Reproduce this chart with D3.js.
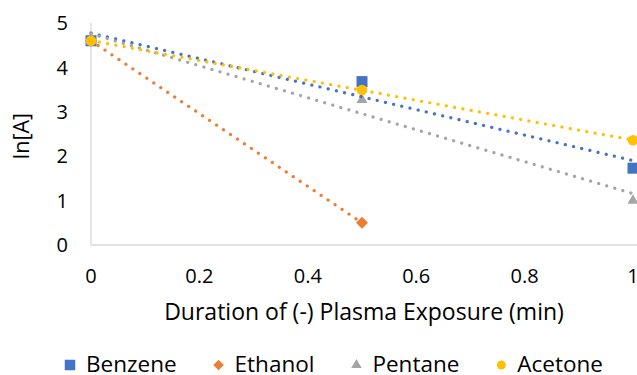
<!DOCTYPE html>
<html>
<head>
<meta charset="utf-8">
<script src="https://cdn.jsdelivr.net/npm/d3@7"></script>
<style>
  html, body { margin: 0; padding: 0; background: #fff; }
  svg { display: block; font-family: "Open Sans", sans-serif; }
</style>
</head>
<body>
<div class="chart"></div>
<script>
// ------------------------------------------------------
const width = 637;
const height = 375;
const seriesNames = [ 'Benzene', 'Ethanol', 'Pentane', 'Acetone' ];
const seriesColors = [ '#4472C4', '#ED7D31', '#A5A5A5', '#FFC000' ];
const durations = [ 0, 0.5, 1 ];
const benzene = [ 4.60, 3.68, 1.73 ];
const ethanol = [ 4.60, 0.50 ];
const pentane = [ 4.60, 3.27, 1.00 ];
const acetone = [ 4.60, 3.49, 2.36 ];
const xTicks = [ 0, 0.2, 0.4, 0.6, 0.8, 1 ];
const yTicks = [ 0, 1, 2, 3, 4, 5 ];
// ------------------------------------------------------
const series = [ benzene, ethanol, pentane, acetone ].map( function ( vals, i ) {
    return {
        name: seriesNames[i],
        color: seriesColors[i],
        points: vals.map( function ( v, j ) { return { x: durations[j], y: v }; } )
    };
});
const shapes = [ 'square', 'diamond', 'triangle', 'circle' ];
// ------------------------------------------------------
const x = d3.scaleLinear().domain( [ 0, 1 ] ).range( [ 91, 633 ] );
const y = d3.scaleLinear().domain( [ 0, 5 ] ).range( [ 245, 23 ] );
// ------------------------------------------------------
function symbolPath( shape, s ) {
    if ( shape === 'square' ) return d3.symbol( d3.symbolSquare, s * s )();
    if ( shape === 'diamond' ) return d3.symbol( d3.symbolSquare, s * s / 2 )();
    if ( shape === 'triangle' ) return d3.symbol( d3.symbolTriangle, Math.sqrt( 3 ) / 4 * s * s )();
    return d3.symbol( d3.symbolCircle, Math.PI * s * s / 4 )();
}
// least squares trendline over the series' own points
function fit( pts ) {
    const mx = d3.mean( pts, d => d.x );
    const my = d3.mean( pts, d => d.y );
    const sxy = d3.sum( pts, d => ( d.x - mx ) * ( d.y - my ) );
    const sxx = d3.sum( pts, d => ( d.x - mx ) * ( d.x - mx ) );
    const b = sxy / sxx;
    const a = my - b * mx;
    const ext = d3.extent( pts, d => d.x );
    return ext.map( function ( t ) { return { x: t, y: a + b * t }; } );
}
// ------------------------------------------------------
const svg = d3.select( '.chart' ).append( 'svg' )
    .attr( 'width', width )
    .attr( 'height', height );
// ------------------------------------------------------
// axes lines
svg.append( 'line' )
    .attr( 'x1', x( 0 ) ).attr( 'x2', width )
    .attr( 'y1', y( 0 ) ).attr( 'y2', y( 0 ) )
    .attr( 'stroke', '#d9d9d9' ).attr( 'stroke-width', 1.3 );
svg.append( 'line' )
    .attr( 'x1', x( 0 ) ).attr( 'x2', x( 0 ) )
    .attr( 'y1', y( 5 ) ).attr( 'y2', y( 0 ) )
    .attr( 'stroke', '#d9d9d9' ).attr( 'stroke-width', 1.3 );
// ------------------------------------------------------
svg.selectAll( '.x-tick' )
    .data( xTicks )
    .enter().append( 'text' )
    .attr( 'x', d => x( d ) )
    .attr( 'y', 283 )
    .attr( 'text-anchor', 'middle' )
    .attr( 'font-size', '20px' )
    .attr( 'fill', '#000' )
    .text( d => d );
svg.selectAll( '.y-tick' )
    .data( yTicks )
    .enter().append( 'text' )
    .attr( 'x', 68 )
    .attr( 'y', d => y( d ) )
    .attr( 'dy', '0.36em' )
    .attr( 'text-anchor', 'end' )
    .attr( 'font-size', '20px' )
    .attr( 'fill', '#000' )
    .text( d => d );
// ------------------------------------------------------
svg.append( 'text' )
    .attr( 'x', 364 )
    .attr( 'y', 320 )
    .attr( 'text-anchor', 'middle' )
    .attr( 'font-size', '23px' )
    .text( 'Duration of (-) Plasma Exposure (min)' );
svg.append( 'text' )
    .attr( 'transform', 'translate(29,136) rotate(-90)' )
    .attr( 'text-anchor', 'middle' )
    .attr( 'font-size', '21.5px' )
    .text( 'ln[A]' );
// ------------------------------------------------------
// markers
series.forEach( function ( s, i ) {
    svg.append( 'g' ).selectAll( 'path' )
        .data( s.points )
        .enter().append( 'path' )
        .attr( 'd', symbolPath( shapes[i], i === 1 ? 12 : ( i === 3 ? 10.5 : 11 ) ) )
        .attr( 'transform', function ( d ) {
            return 'translate(' + x( d.x ) + ',' + y( d.y ) + ')' + ( i === 1 ? ' rotate(45)' : '' );
        })
        .attr( 'fill', s.color );
});
// ------------------------------------------------------
// dotted linear trendlines
const line = d3.line().x( d => x( d.x ) ).y( d => y( d.y ) );
series.forEach( function ( s ) {
    svg.append( 'path' )
        .attr( 'd', line( fit( s.points ) ) )
        .attr( 'fill', 'none' )
        .attr( 'stroke', s.color )
        .attr( 'stroke-width', 3.2 )
        .attr( 'stroke-linecap', 'round' )
        .attr( 'stroke-dasharray', '0.1 8.3' );
});
// ------------------------------------------------------
// legend
const legend = svg.append( 'g' );
let cursor = 0;
series.forEach( function ( s, i ) {
    const item = legend.append( 'g' ).attr( 'transform', 'translate(' + cursor + ',0)' );
    item.append( 'path' )
        .attr( 'd', symbolPath( shapes[i], i === 1 ? 10.5 : ( i === 3 ? 9 : 10.5 ) ) )
        .attr( 'transform', 'translate(5,365)' + ( i === 1 ? ' rotate(45)' : '' ) )
        .attr( 'fill', s.color );
    const t = item.append( 'text' )
        .attr( 'x', 21 )
        .attr( 'y', 372 )
        .attr( 'font-size', '22.5px' )
        .text( s.name );
    cursor += 21 + t.node().getComputedTextLength() + 37;
});
const legendWidth = cursor - 37;
legend.attr( 'transform', 'translate(' + ( 334 - legendWidth / 2 ) + ',0)' );
</script>
</body>
</html>
